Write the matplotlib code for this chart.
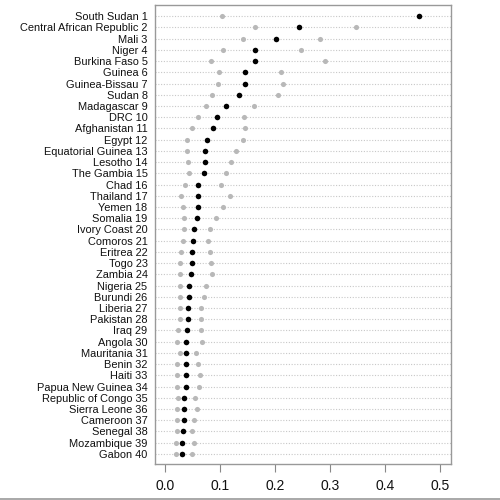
import matplotlib
matplotlib.use("Agg")
import matplotlib.pyplot as plt
from matplotlib.lines import Line2D
import numpy as np

countries = ["South Sudan 1", "Central African Republic 2", "Mali 3", "Niger 4",
             "Burkina Faso 5", "Guinea 6", "Guinea-Bissau 7", "Sudan 8",
             "Madagascar 9", "DRC 10", "Afghanistan 11", "Egypt 12",
             "Equatorial Guinea 13", "Lesotho 14", "The Gambia 15", "Chad 16",
             "Thailand 17", "Yemen 18", "Somalia 19", "Ivory Coast 20",
             "Comoros 21", "Eritrea 22", "Togo 23", "Zambia 24", "Nigeria 25",
             "Burundi 26", "Liberia 27", "Pakistan 28", "Iraq 29", "Angola 30",
             "Mauritania 31", "Benin 32", "Haiti 33", "Papua New Guinea 34",
             "Republic of Congo 35", "Sierra Leone 36", "Cameroon 37",
             "Senegal 38", "Mozambique 39", "Gabon 40"]

estimate = [0.4624, 0.244, 0.2024, 0.1642, 0.163, 0.146, 0.146, 0.135,
            0.110, 0.094, 0.0867, 0.0758, 0.0733, 0.0721, 0.0703, 0.0606,
            0.0606, 0.060, 0.0576, 0.0533, 0.0503, 0.0497, 0.0485, 0.0479,
            0.0436, 0.0436, 0.0424, 0.0424, 0.040, 0.0382, 0.0382, 0.0376,
            0.0376, 0.0376, 0.0352, 0.0352, 0.034, 0.0327, 0.0315, 0.0309]

lower = [0.1036, 0.163, 0.1418, 0.1055, 0.0836, 0.0982, 0.097, 0.0848,
         0.0745, 0.0594, 0.0497, 0.0406, 0.0406, 0.0424, 0.0436, 0.0364,
         0.0297, 0.0321, 0.0352, 0.034, 0.0327, 0.0297, 0.0279, 0.0279,
         0.0267, 0.0267, 0.0267, 0.0273, 0.0236, 0.0224, 0.0267, 0.0224,
         0.0224, 0.0224, 0.0236, 0.0224, 0.0224, 0.0224, 0.0206, 0.0206]

upper = [np.nan, 0.348, 0.281, 0.2473, 0.291, 0.211, 0.215, 0.2055,
         0.161, 0.1436, 0.1448, 0.1412, 0.129, 0.120, 0.110, 0.1018,
         0.118, 0.1055, 0.0921, 0.0824, 0.0782, 0.0824, 0.0836, 0.0848,
         0.0745, 0.0709, 0.066, 0.066, 0.066, 0.0673, 0.057, 0.0606,
         0.0636, 0.0624, 0.0539, 0.0576, 0.0533, 0.049, 0.0533, 0.049]

xticks = [0.0, 0.1, 0.2, 0.3, 0.4, 0.5]

plt.rcParams['font.family'] = ['Liberation Sans', 'DejaVu Sans']

fig = plt.figure(figsize=(5, 5), dpi=100)
ax = fig.add_axes([0.309, 0.072, 0.592, 0.9186])

n = len(countries)
y = np.arange(n, 0, -1)

for yy in y:
    ax.axhline(yy, color='#c8c8c8', linestyle=(0, (1, 1.5)), linewidth=0.8, zorder=1)

ax.plot(lower, y, 'o', color='#b8b8b8', markersize=3.7, markeredgewidth=0, zorder=2)
ax.plot(upper, y, 'o', color='#b8b8b8', markersize=3.7, markeredgewidth=0, zorder=2)
ax.plot(estimate, y, 'o', color='black', markersize=4.0, markeredgewidth=0, zorder=3)

ax.set_xlim(-0.0193, 0.519)
ax.set_ylim(0.1, 41.03)
ax.set_yticks(y)
ax.set_yticklabels(countries, fontsize=7.9, color='#111111')
ax.tick_params(axis='y', length=0, pad=5)
ax.set_xticks(xticks)
ax.set_xticklabels([f"{t:.1f}" for t in xticks], fontsize=10, color='#111111')
ax.tick_params(axis='x', length=6, color='#888888', width=0.8, pad=5)

for s in ax.spines.values():
    s.set_color('#999999')
    s.set_linewidth(1.0)

fig.add_artist(Line2D([0, 1], [0.003, 0.003], transform=fig.transFigure,
                      color='#999999', linewidth=1.2))

fig.savefig("out.png", dpi=100)
